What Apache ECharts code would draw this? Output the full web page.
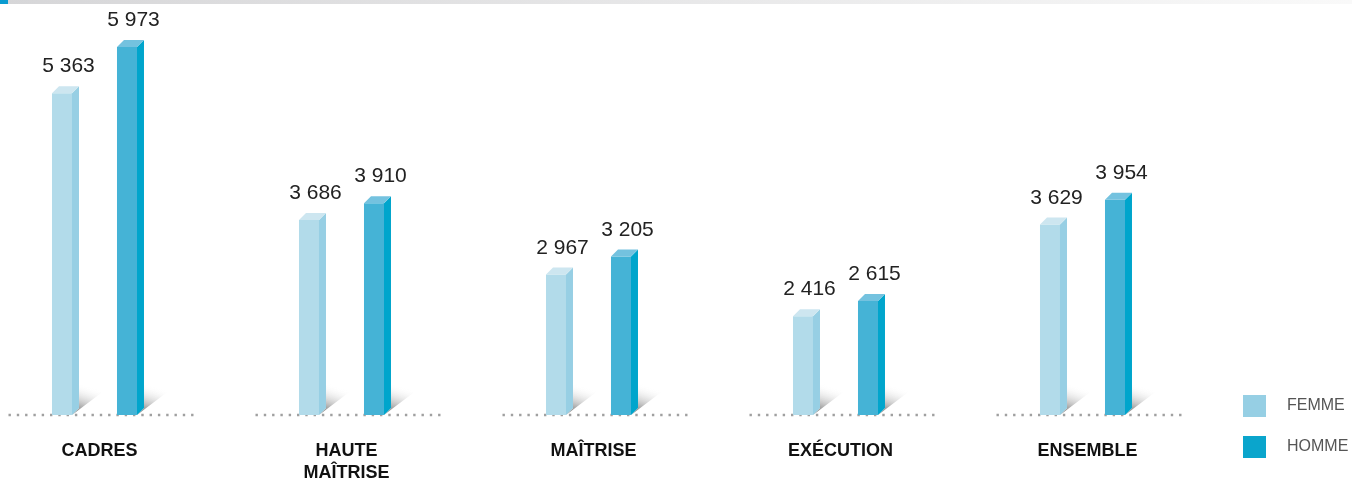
<!DOCTYPE html>
<html>
<head>
<meta charset="utf-8">
<script src="https://cdn.jsdelivr.net/npm/echarts@6/dist/echarts.min.js"></script>
<style>
  html, body { margin: 0; padding: 0; background: #fff; }
  #chart { width: 1352px; height: 481px; }
</style>
</head>
<body>
<div id="chart"></div>
<script>
var categories = ['CADRES', 'HAUTE\nMAÎTRISE', 'MAÎTRISE', 'EXÉCUTION', 'ENSEMBLE'];
var femme = [5363, 3686, 2967, 2416, 3629];
var homme = [5973, 3910, 3205, 2615, 3954];
var seriesNames = ['FEMME', 'HOMME'];

var yMin = 1110, yMax = 6000;
var font = '"Liberation Sans", Arial, sans-serif';

function fmt(v) {
    return String(v).replace(/\B(?=(\d{3})+(?!\d))/g, ' ');
}

// couleurs : face, côté, dessus
var palette = [
    { front: '#b2dbea', side: '#97cfe4', top: '#cde6f0' },
    { front: '#45b3d6', side: '#00a5cc', top: '#74c2df' }
];

function barRenderer(k) {
    return function (params, api) {
        var idx = api.value(0), v = api.value(1);
        var c = api.coord([idx, v]);
        var b = api.coord([idx, yMin]);
        var w = 20, d = 7;
        var x0 = c[0] + (k === 0 ? -47.5 : 17.5);
        var x1 = x0 + w;
        var top = c[1], base = b[1];
        var col = palette[k];
        return {
            type: 'group',
            children: [{
                type: 'polygon',
                shape: { points: [[x1, base], [x1 + 41, base - 31], [x1 + d, base - 31], [x1 + d, base - d]] },
                style: {
                    fill: new echarts.graphic.LinearGradient(0, 1, 0.25, 0, [
                        { offset: 0, color: 'rgba(110,110,110,1)' },
                        { offset: 0.3, color: 'rgba(160,160,160,0.9)' },
                        { offset: 1, color: 'rgba(255,255,255,0)' }
                    ])
                }
            }, {
                type: 'rect',
                shape: { x: x0, y: top, width: w, height: base - top },
                style: { fill: col.front }
            }, {
                type: 'polygon',
                shape: { points: [[x1, top], [x1 + d, top - d], [x1 + d, base - d], [x1, base]] },
                style: { fill: col.side }
            }, {
                type: 'polygon',
                shape: { points: [[x0, top], [x0 + d, top - d], [x1 + d, top - d], [x1, top]] },
                style: { fill: col.top }
            }, {
                type: 'text',
                style: {
                    text: fmt(v),
                    x: x0 + (w + d) / 2 + 3,
                    y: top - d - 9,
                    align: 'center',
                    verticalAlign: 'bottom',
                    fontSize: 21,
                    fontFamily: font,
                    fill: '#222'
                }
            }]
        };
    };
}

function baseRenderer(params, api) {
    var idx = api.value(0);
    var c = api.coord([idx, yMin]);
    return {
        type: 'line',
        shape: { x1: c[0] - 91, y1: c[1], x2: c[0] + 98, y2: c[1] },
        style: { stroke: '#a0a0a0', lineWidth: 2.4, lineDash: [2.4, 5.9] }
    };
}

var chart = echarts.init(document.getElementById('chart'));

var option = {
    animation: false,
    graphic: [{
        type: 'rect',
        shape: { x: 0, y: 0, width: 1352, height: 4 },
        style: {
            fill: new echarts.graphic.LinearGradient(0, 0, 1, 0, [
                { offset: 0, color: '#d6d6d8' },
                { offset: 1, color: '#f9f9f9' }
            ])
        }
    }, {
        type: 'rect',
        shape: { x: 0, y: 0, width: 8, height: 4 },
        style: { fill: '#0a9bd0' }
    }],
    legend: {
        data: seriesNames,
        orient: 'vertical',
        left: 1238,
        top: 390,
        itemWidth: 23,
        itemHeight: 22,
        itemGap: 19,
        icon: 'rect',
        textStyle: { fontSize: 16, color: '#555', fontFamily: font, padding: [0, 0, 0, 16] }
    },
    grid: { left: 0, right: 0, top: 45, bottom: 66, outerBoundsMode: 'none', containLabel: false },
    xAxis: {
        type: 'value',
        min: -0.4028,
        max: 5.0709,
        axisLine: { show: false },
        axisTick: { show: false },
        splitLine: { show: false },
        axisLabel: {
            customValues: [0, 1, 2, 3, 4],
            formatter: function (v) { return categories[Math.round(v)]; },
            margin: 25,
            fontSize: 18,
            fontWeight: 'bold',
            color: '#111',
            fontFamily: font,
            lineHeight: 22
        }
    },
    yAxis: {
        type: 'value',
        min: yMin,
        max: yMax,
        show: false
    },
    series: [{
        type: 'custom',
        name: 'base',
        renderItem: baseRenderer,
        data: categories.map(function (c, i) { return [i, yMin]; }),
        silent: true
    }, {
        type: 'custom',
        name: seriesNames[0],
        renderItem: barRenderer(0),
        itemStyle: { color: '#96cfe4' },
        encode: { x: 0, y: 1 },
        data: femme.map(function (v, i) { return [i, v]; })
    }, {
        type: 'custom',
        name: seriesNames[1],
        renderItem: barRenderer(1),
        itemStyle: { color: '#0aa5cc' },
        encode: { x: 0, y: 1 },
        data: homme.map(function (v, i) { return [i, v]; })
    }]
};

chart.setOption(option);
window.addEventListener('resize', function () {
    chart.resize();
});
</script>
</body>
</html>
